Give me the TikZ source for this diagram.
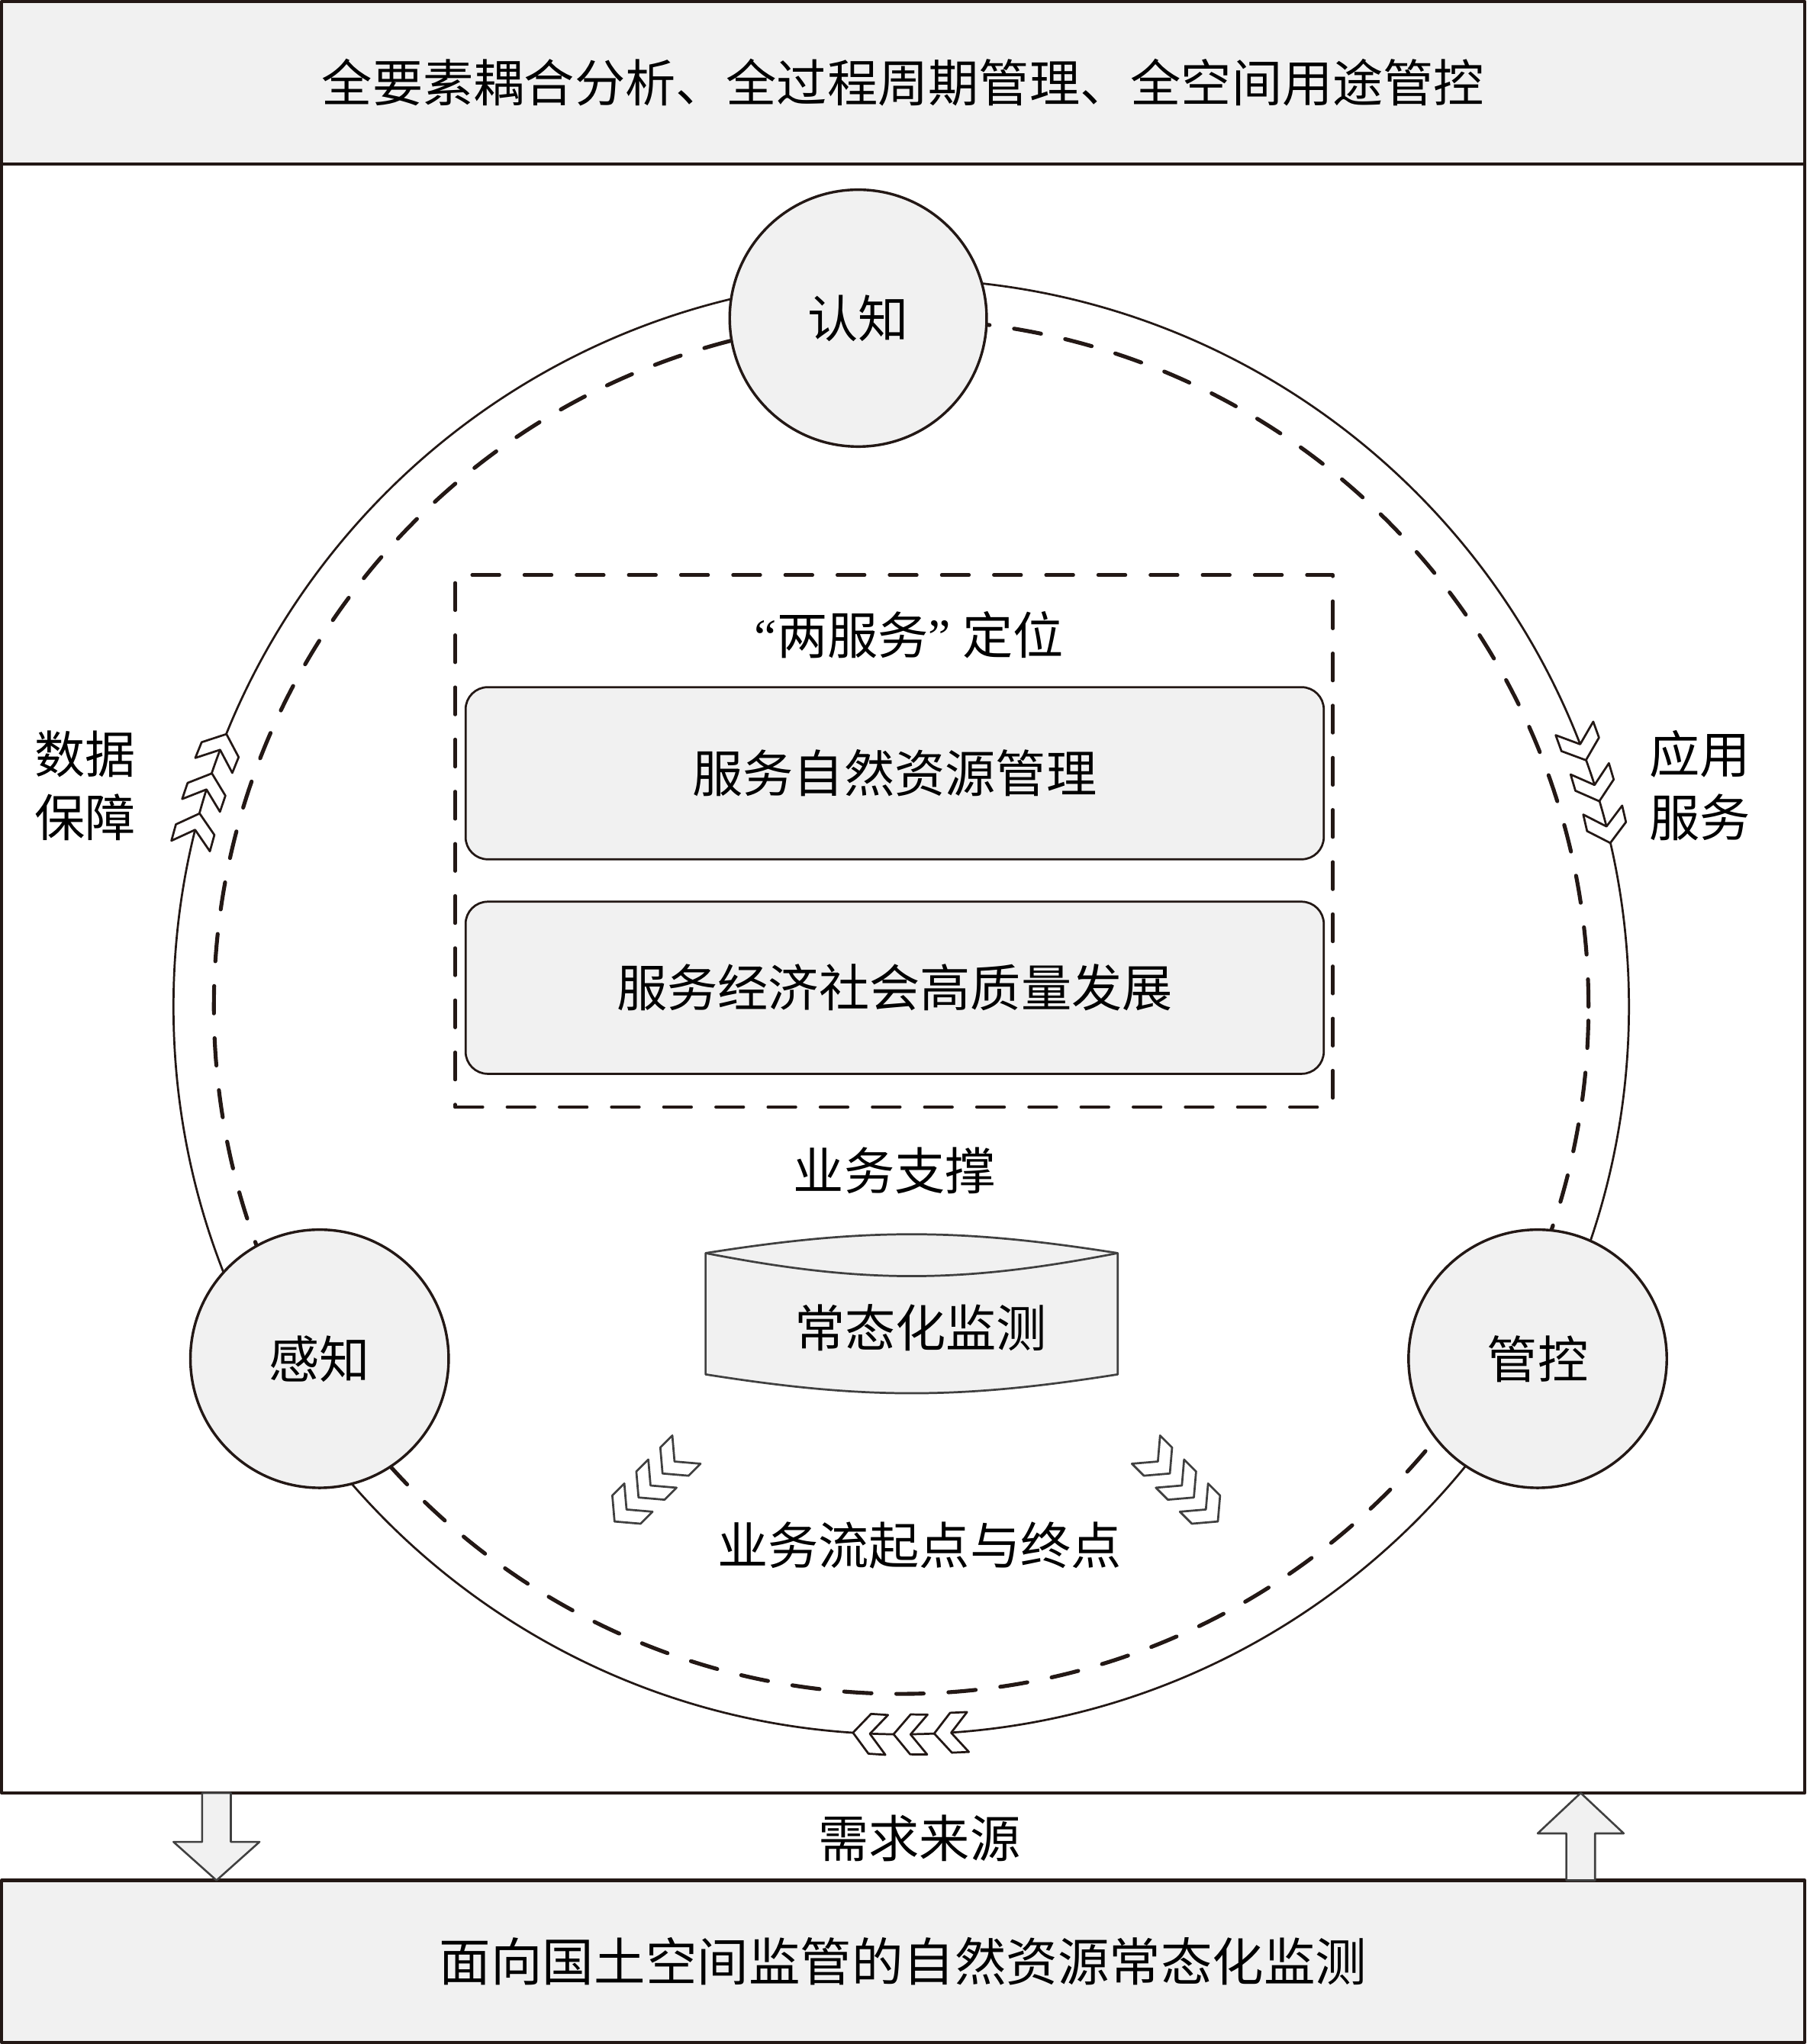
\documentclass[tikz,border=0pt]{standalone}
\usepackage{fontspec}
\newfontfamily\cjk{Noto Sans CJK SC}
\newfontfamily\latin{Liberation Serif}
\usetikzlibrary{calc}
\definecolor{ink}{RGB}{35,24,21}
\definecolor{panel}{RGB}{241,241,241}

\begin{document}
\begin{tikzpicture}[x=1pt, y=1pt, font={\cjk\fontsize{38.75pt}{49pt}\selectfont}, line join=round]

    % --- STYLES ---
    \tikzstyle{bar} = [draw=ink, line width=2.4, fill=panel, inner sep=0, minimum width=1382.6]
    \tikzstyle{mainframe} = [draw=ink, line width=2.4, fill=white, inner sep=0, minimum width=1382.6]
    \tikzstyle{stage} = [circle, draw=ink, line width=2, fill=panel, minimum size=197, inner sep=0]
    \tikzstyle{svcbox} = [draw=ink, line width=1.6, fill=panel, rounded corners=17pt, minimum width=658, minimum height=132]
    \tikzstyle{dashbox} = [draw=ink, line width=2.6, dash pattern=on 21pt off 19pt, line cap=round, minimum width=673, minimum height=408]
    \tikzstyle{ring} = [draw=ink, line width=1.6]
    \tikzstyle{dashring} = [draw=ink, line width=3, dash pattern=on 21pt off 19pt, line cap=round]
    \tikzstyle{drum} = [draw=black!75, line width=1.6, fill=panel]
    \tikzstyle{chev} = [draw=ink, fill=white, line width=1.6]
    \tikzstyle{chevgray} = [draw=black!75, fill=white, line width=1.6]
    \tikzstyle{blockarrow} = [draw=black!75, fill=panel, line width=1.5]
    \tikzstyle{lbl} = [inner sep=0, align=center]

    \useasboundingbox (0,0) rectangle (1385,1567.5);

    % --- FRAMES ---
    \node[mainframe, minimum height=1249] (frame) at (692.5,817) {};
    \node[bar, minimum height=124.8] (goal) at (692.5,1503.9) {全要素耦合分析、全过程周期管理、全空间用途管控};
    \node[bar, minimum height=124.3, font={\cjk\fontsize{39.5pt}{49pt}\selectfont}] (base) at (692.5,63.35) {面向国土空间监管的自然资源常态化监测};

    % --- RINGS ---
    \coordinate (hub) at (691,795.5);
    \draw[ring] (hub) circle (558);
    \draw[dashring] (hub) circle (527);

    % chevrons riding on the ring (clockwise flow)
    \foreach \a in {158,161.3,164.6,19.8,16.4,13,266.2,269.4,272.6}
        \draw[chev, shift={($(hub)+(\a:558)$)}, rotate=\a-90] (0,0) -- (-12.9,15.3) -- (-25.9,15.3) -- (-13,0) -- (-25.9,-15.3) -- (-12.9,-15.3) -- cycle;

    % --- STAGES ---
    \node[stage] (cog) at (658,1323.5) {认知};
    \node[stage, minimum size=198] (sense) at (245,525.5) {感知};
    \node[stage, minimum size=198] (ctrl) at (1179,525.5) {管控};

    \node[lbl] (dataLbl) at (65.5,965) {数据\\保障};
    \node[lbl] (appLbl) at (1303.5,965) {应用\\服务};

    % --- "TWO SERVICES" BOX ---
    \node[dashbox] (twosvc) at (685.5,922.5) {};
    \node[lbl] (svcTitle) at (697,1080.5) {{\latin “}两服务{\latin ”} 定位};
    \node[svcbox] (svcRes) at (686,974.5) {服务自然资源管理};
    \node[svcbox] (svcEcon) at (686,810) {服务经济社会高质量发展};

    \node[lbl] (support) at (686,669.5) {业务支撑};

    % --- MONITORING DRUM ---
    \draw[drum] (541,606.5) to[bend left=9] (857,606.5) -- (857,513.5) to[bend left=9] (541,513.5) -- cycle;
    \draw[drum, fill=none] (541,606.5) to[bend right=11] (857,606.5);
    \node[lbl] (monitor) at (706,549.5) {常态化监测};

    % flow start / end chevrons
    \foreach \px/\py/\r in {508/437.5/225, 489.6/419.1/225, 471.2/400.7/225, 897/437.5/-45, 915.4/419.1/-45, 933.8/400.7/-45}
        \draw[chevgray, shift={(\px,\py)}, rotate=\r] (0,0) -- (-12.9,15.3) -- (-25.9,15.3) -- (-13,0) -- (-25.9,-15.3) -- (-12.9,-15.3) -- cycle;
    \node[lbl] (flowLbl) at (705,382.5) {业务流起点与终点};

    % --- DEMAND ARROWS ---
    \coordinate (dnA) at (166,192.5);
    \coordinate (dnB) at (166,125.5);
    \coordinate (upA) at (1212,125.5);
    \coordinate (upB) at (1212,192.5);
    \draw[blockarrow] ($(dnA)+(-11,0)$) -- ($(dnA)+(-11,-37.5)$) -- ++(-22,0) -- (dnB) -- ++(33,29.5) -- ++(-22,0) -- ($(dnA)+(11,0)$) -- cycle;
    \draw[blockarrow] ($(upA)+(-11,0)$) -- ($(upA)+(-11,36)$) -- ++(-22,0) -- (upB) -- ++(33,-31) -- ++(-22,0) -- ($(upA)+(11,0)$) -- cycle;
    \node[lbl] (demand) at (705,157.5) {需求来源};

\end{tikzpicture}
\end{document}
